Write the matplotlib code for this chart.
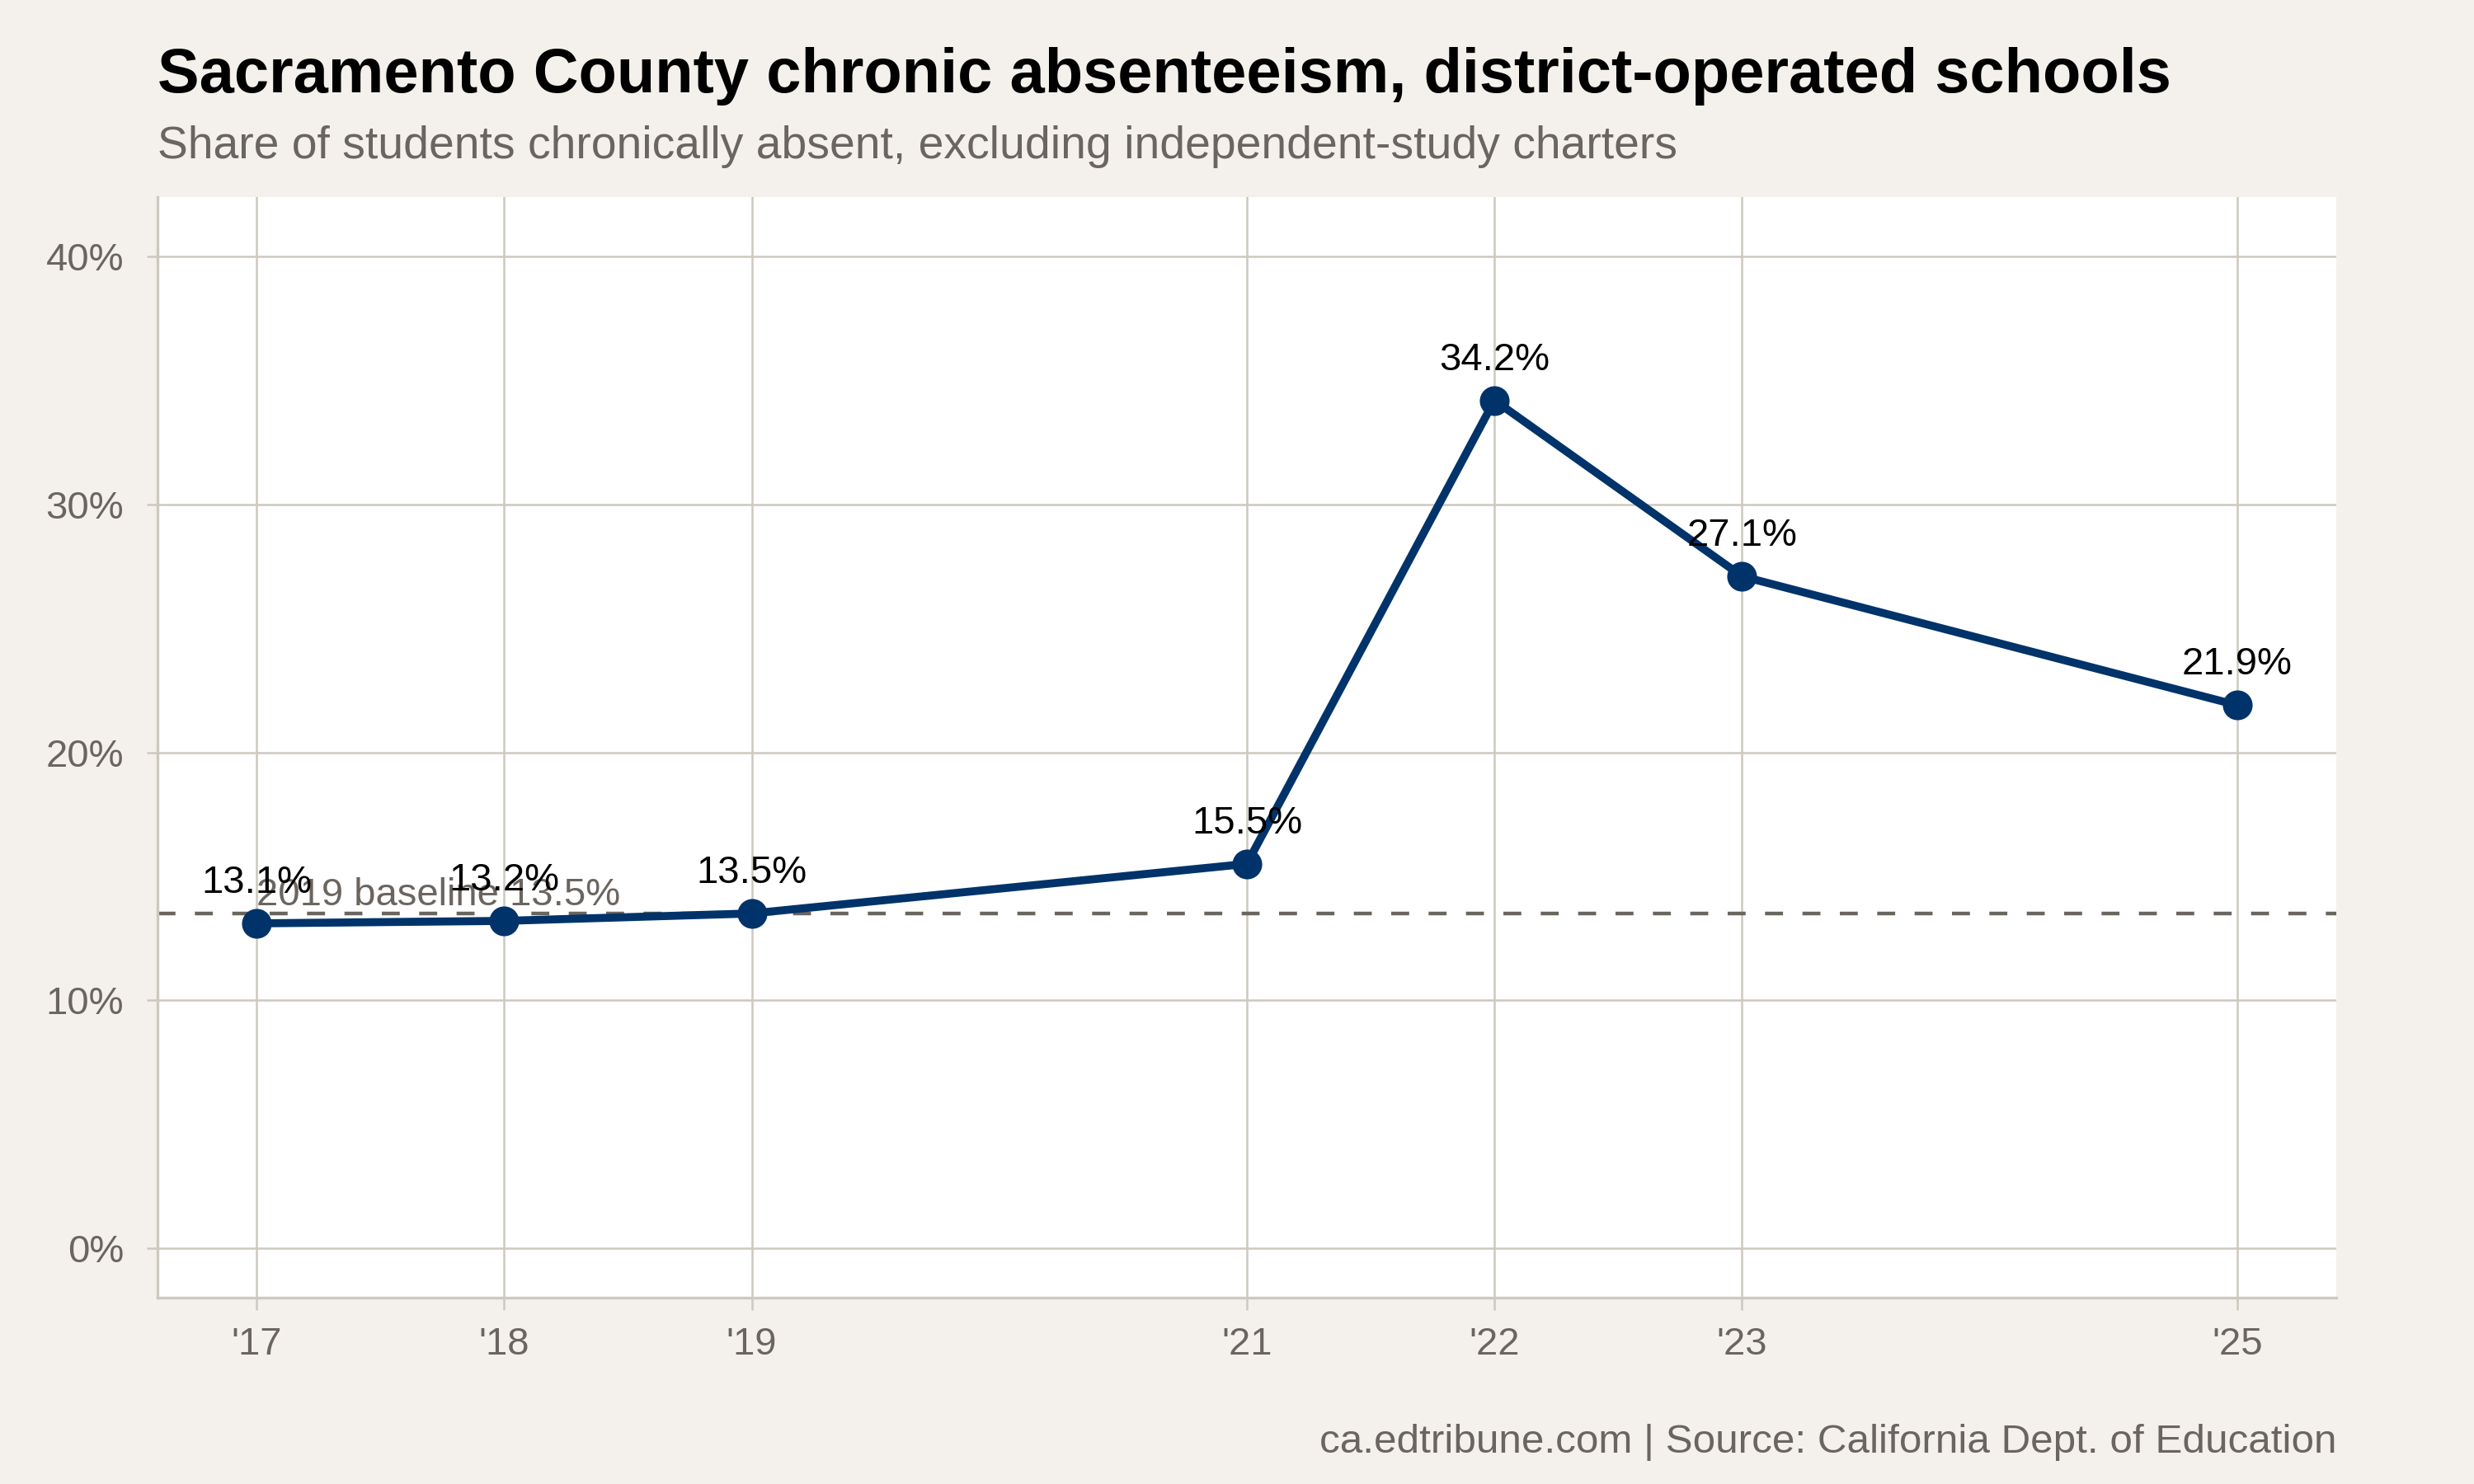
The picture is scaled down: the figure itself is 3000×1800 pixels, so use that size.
import matplotlib
matplotlib.use("Agg")
import matplotlib.pyplot as plt
from matplotlib.ticker import FuncFormatter

years = [2017, 2018, 2019, 2021, 2022, 2023, 2025]
rates = [13.1, 13.2, 13.5, 15.5, 34.2, 27.1, 21.9]
year_labels = ["'17", "'18", "'19", "'21", "'22", "'23", "'25"]
y_ticks = [0, 10, 20, 30, 40]
baseline = 13.5

title = "Sacramento County chronic absenteeism, district-operated schools"
subtitle = "Share of students chronically absent, excluding independent-study charters"
source = "ca.edtribune.com | Source: California Dept. of Education"

plt.rcParams['font.family'] = ['Liberation Sans', 'DejaVu Sans']

BG = "#f4f1ec"
GRID = "#cdc8c0"
GRAYTXT = "#6b6560"
NAVY = "#00336a"

fig = plt.figure(figsize=(15, 9), dpi=200, facecolor=BG)
ax = fig.add_axes([191/3000, 1 - 1574/1800, (2833-191)/3000, (1574-239)/1800])
ax.set_facecolor("white")

ax.set_xlim(2016.6, 2025.4)
ax.set_ylim(-2.0, 42.4)

ax.set_xticks(years)
ax.set_xticklabels(year_labels)
ax.set_yticks(y_ticks)
ax.yaxis.set_major_formatter(FuncFormatter(lambda v, p: f"{v:.0f}%"))

ax.grid(True, color=GRID, linewidth=0.9, zorder=0)
ax.set_axisbelow(True)
for s in ["top", "right"]:
    ax.spines[s].set_visible(False)
for s in ["left", "bottom"]:
    ax.spines[s].set_color(GRID)
    ax.spines[s].set_linewidth(1.2)

ax.tick_params(axis="x", length=5.5, width=0.9, color=GRID, pad=7, labelsize=17, labelcolor=GRAYTXT)
ax.tick_params(axis="y", length=4.7, width=0.9, color=GRID, pad=10, labelsize=17, labelcolor=GRAYTXT)

ax.axhline(baseline, color=GRAYTXT, linewidth=1.6, dashes=(4.9, 5.3), zorder=2)
ax.annotate(f"2019 baseline {baseline}%", (years[0], baseline), xytext=(0, 3.6),
            textcoords="offset points", color=GRAYTXT, fontsize=17,
            ha="left", va="baseline", zorder=3)

ax.plot(years, rates, color=NAVY, linewidth=3.5, marker="o", markersize=12, zorder=4)
for x, y in zip(years, rates):
    ax.annotate(f"{y}%", (x, y), xytext=(0, 13.3), textcoords="offset points",
                ha="center", va="baseline", fontsize=17, color="black", zorder=5)

fig.text(191/3000, 1 - 112/1800, title, fontsize=27.3, fontweight="bold", color="black",
         ha="left", va="baseline")
fig.text(191/3000, 1 - 192/1800, subtitle, fontsize=19.9, color=GRAYTXT,
         ha="left", va="baseline")
fig.text(2833/3000, 1 - 1762/1800, source, fontsize=17.8, color=GRAYTXT,
         ha="right", va="baseline")

fig.savefig("out.png", dpi=200, facecolor=BG)
